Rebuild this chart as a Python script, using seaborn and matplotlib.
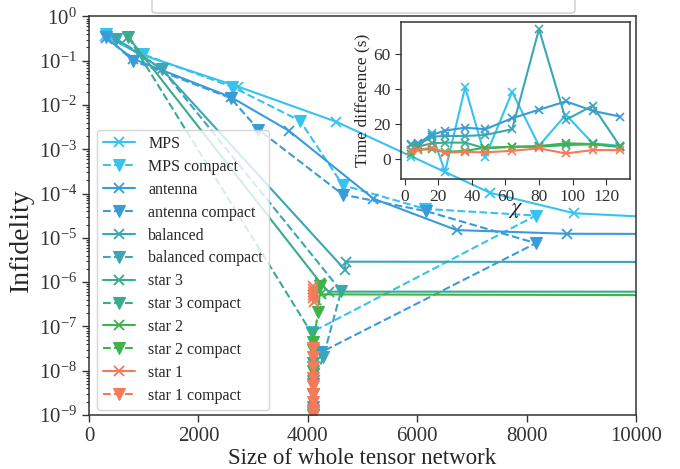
import numpy as np
import pandas as pd
import matplotlib
matplotlib.use("Agg")
import matplotlib.pyplot as plt
import seaborn as sns
from matplotlib.patches import FancyBboxPatch

# ---------------- data ----------------
labels = ["MPS", "antenna", "balanced", "star 3", "star 2", "star 1"]
colors = ["#36c3ef", "#3a9bd9", "#3ba6b4", "#3aab8f", "#3cb44a", "#f47a5a"]

mps_size = [296, 936, 2728, 4520, 7336, 8872, 10920]
mps_inf = [0.37, 0.14, 0.026, 0.0042, 1.04e-4, 3.6e-5, 2.7e-5]
mpsc_size = [305, 990, 2610, 3860, 4640, 6150, 8170, 4080, 4090, 4090, 4090]
mpsc_inf = [0.40, 0.14, 0.026, 0.0044, 1.55e-4, 4.5e-5, 3.2e-5, 7.5e-8, 1.2e-8, 3e-9, 1.1e-9]

ant_size = [305, 810, 2600, 3660, 5200, 6720, 8730, 11500]
ant_inf = [0.33, 0.11, 0.015, 0.0026, 7.7e-5, 1.5e-5, 1.24e-5, 1.22e-5]
antc_size = [305, 810, 2590, 3095, 4640, 6170, 8170, 4240, 4090, 4090]
antc_inf = [0.35, 0.10, 0.0144, 0.0028, 9.5e-5, 4.0e-5, 7.6e-6, 2.6e-8, 6e-9, 1.5e-9]

bal_size = [500, 1330, 4680, 4690, 12000]
bal_inf = [0.31, 0.065, 1.9e-6, 2.9e-6, 2.85e-6]
balc_size = [500, 1330, 4610, 4280, 4100, 4100]
balc_inf = [0.31, 0.065, 6.3e-7, 2.0e-8, 5e-9, 1.2e-9]

s3_size = [720, 4250, 4380, 12500]
s3_inf = [0.34, 9e-7, 6.1e-7, 6.1e-7]
s3c_size = [720, 4070, 4090, 4090, 4090]
s3c_inf = [0.34, 7e-8, 1.5e-8, 3e-9, 1e-9]

s2_size = [4150, 4220, 4250, 13000]
s2_inf = [4e-7, 9.5e-7, 5.3e-7, 5.0e-7]
s2c_size = [4230, 4190, 4100, 4100, 4100, 4100]
s2c_inf = [8e-7, 2.1e-7, 4.5e-8, 3e-8, 1e-8, 1e-9]

s1_size = [4090, 4100, 4095, 4105, 4090, 4100]
s1_inf = [8e-7, 5e-7, 6e-7, 3.5e-7, 7e-7, 4.5e-7]
s1c_size = [4100, 4100, 4100, 4100, 4100, 4100, 4100, 4100, 4100]
s1c_inf = [3.2e-8, 2e-8, 1.2e-8, 7e-9, 4.5e-9, 3e-9, 2e-9, 1.3e-9, 1e-9]

# inset: time difference vs chi
chi = [4, 8, 16, 24, 36, 48, 64, 80, 96, 112, 128]
t_mps = [1.2, 7, 15, -7.5, 41, 1, 38.4, 7.5, 25.3, 8.9, 7.5]
t_ant = [8.5, 8.9, 13.7, 16.2, 17.9, 17, 23.3, 28.2, 33, 27.6, 24.3]
t_bal = [8, 8, 12.7, 13.1, 13.1, 13.7, 17, 74.5, 22.4, 30.5, 7.5]
t_s3 = [5, 7, 8.9, 9.3, 9.3, 6, 6.9, 6.9, 7.9, 8.3, 6.9]
t_s2 = [2.7, 5.4, 5.4, 4, 4.6, 6.4, 6.9, 7.3, 8.9, 8.5, 6.9]
t_s1 = [4.6, 5, 6.4, 3.5, 4, 3.7, 4.6, 6, 3.1, 5, 5]

# ---------------- style ----------------
sns.set_style("ticks")
plt.rcParams["font.family"] = ["Liberation Serif", "DejaVu Serif"]
plt.rcParams["mathtext.fontset"] = "stix"
plt.rcParams["axes.edgecolor"] = "#333333"
plt.rcParams["xtick.color"] = "#333333"
plt.rcParams["ytick.color"] = "#333333"
plt.rcParams["axes.linewidth"] = 1.1

fig = plt.figure(figsize=(6.8, 4.69), dpi=100)
ax = fig.add_axes([89 / 680, 1 - 415 / 469, 547 / 680, 398.5 / 469])

full = [
    (mps_size, mps_inf, mpsc_size, mpsc_inf),
    (ant_size, ant_inf, antc_size, antc_inf),
    (bal_size, bal_inf, balc_size, balc_inf),
    (s3_size, s3_inf, s3c_size, s3c_inf),
    (s2_size, s2_inf, s2c_size, s2c_inf),
    (s1_size, s1_inf, s1c_size, s1c_inf),
]

for lab, col, (xs, ys, xc, yc) in zip(labels, colors, full):
    sns.lineplot(x=xs, y=ys, ax=ax, sort=False, estimator=None, color=col,
                 linestyle="-", linewidth=1.5, marker="x", markersize=7,
                 markeredgewidth=1.3, markeredgecolor=col, label=lab)
    sns.lineplot(x=xc, y=yc, ax=ax, sort=False, estimator=None, color=col,
                 linestyle="--", linewidth=1.5, marker="v", markersize=8,
                 markeredgewidth=0.8, markeredgecolor=col, markerfacecolor=col,
                 label=lab + " compact")

ax.set_yscale("log")
ax.set_xlim(0, 10000)
ax.set_ylim(1e-9, 1)
ax.set_xticks([0, 2000, 4000, 6000, 8000, 10000])
ax.set_yticks([10.0 ** k for k in range(-9, 1)])
ax.tick_params(axis="both", which="major", labelsize=15, length=5, width=1)
ax.tick_params(axis="y", which="minor", length=2.5, width=0.8)
ax.set_xlabel("Size of whole tensor network", fontsize=16.5)
ax.set_ylabel("Infidelity", fontsize=20)
ax.xaxis.set_label_coords(0.5, -0.082)
ax.yaxis.set_label_coords((34 - 89) / 547, (415 - 240) / 398.5)

ax.legend(loc="lower left", bbox_to_anchor=(8 / 547, 5 / 398.5), borderaxespad=0,
          fontsize=11.5, labelspacing=0.43, handlelength=2.0, framealpha=0.8,
          edgecolor="#cccccc", fancybox=True)

# inset
axi = fig.add_axes([401 / 680, 1 - 179 / 469, 229 / 680, 157 / 469])
axi.set_facecolor("none")
for col, t in zip(colors, [t_mps, t_ant, t_bal, t_s3, t_s2, t_s1]):
    sns.lineplot(x=chi, y=t, ax=axi, sort=False, estimator=None, color=col,
                 linewidth=1.5, marker="x", markersize=6, markeredgewidth=1.2,
                 markeredgecolor=col)
axi.set_xticks([0, 20, 40, 60, 80, 100, 120])
axi.set_yticks([0, 20, 40, 60])
axi.tick_params(labelsize=12.5, length=4)
axi.set_xlabel(r"$\chi$", fontsize=16, labelpad=-3)
axi.set_ylabel("Time difference (s)", fontsize=12.5, labelpad=2)

# clipped box at the top of the figure
fig.patches.append(FancyBboxPatch((152 / 680, 1 - 13 / 469), 423 / 680, 0.08,
                                  boxstyle="round,pad=0,rounding_size=0.006",
                                  transform=fig.transFigure, facecolor="white",
                                  edgecolor="#cccccc", linewidth=1.0))

fig.savefig("out.png", dpi=100)
